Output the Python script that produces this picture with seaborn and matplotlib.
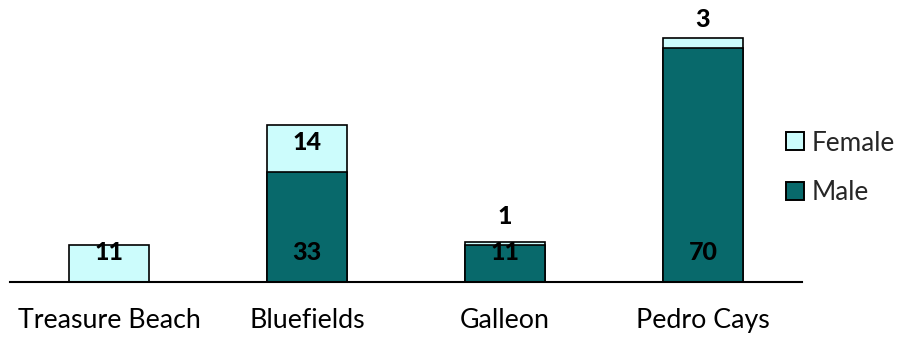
import matplotlib
matplotlib.use("Agg")
import matplotlib.pyplot as plt
from matplotlib.patches import Patch
import seaborn as sns
import pandas as pd

# Catch by site and sex
sites = ["Treasure Beach", "Bluefields", "Galleon", "Pedro Cays"]
male = [0, 33, 11, 70]
female = [11, 14, 1, 3]

MALE_COLOR = "#08696B"
FEMALE_COLOR = "#CCFCFC"

sns.set_theme(style="white")
plt.rcParams["font.family"] = ["Lato", "DejaVu Sans"]

df = pd.DataFrame({"site": sites, "male": male, "female": female})
df["total"] = df["male"] + df["female"]

fig = plt.figure(figsize=(8.99, 3.37), dpi=100)
ax = fig.add_axes([10 / 899, 55 / 337, 792 / 899, 267 / 337])

# Stacked bars: full height in the female colour, male portion on top of it
sns.barplot(data=df, x="site", y="total", color=FEMALE_COLOR, saturation=1,
            width=0.4, edgecolor="black", linewidth=1.2, ax=ax)
sns.barplot(data=df, x="site", y="male", color=MALE_COLOR, saturation=1,
            width=0.4, edgecolor="black", linewidth=1.2, ax=ax)

ax.set_xlim(-0.5, 3.5)
ax.set_ylim(0, 80)
ax.set_xlabel("")
ax.set_ylabel("")
ax.set_yticks([])
for side in ["top", "left", "right"]:
    ax.spines[side].set_visible(False)
ax.spines["bottom"].set_color("black")
ax.spines["bottom"].set_linewidth(1.5)
ax.tick_params(axis="x", length=0, pad=19, labelsize=19.3, colors="black")

# Value labels sit just above the base of each segment
for i, (m, f) in enumerate(zip(male, female)):
    if m > 0:
        ax.annotate(str(m), (i, 0), xytext=(0, 29), textcoords="offset pixels",
                    ha="center", va="center", fontsize=18, fontweight="black",
                    color="black")
    if f > 0:
        ax.annotate(str(f), (i, m), xytext=(0, 29), textcoords="offset pixels",
                    ha="center", va="center", fontsize=18, fontweight="black",
                    color="black")

handles = [Patch(facecolor=FEMALE_COLOR, edgecolor="black", linewidth=1.4, label="Female"),
           Patch(facecolor=MALE_COLOR, edgecolor="black", linewidth=1.4, label="Male")]
fig.legend(handles=handles, loc="center left", bbox_to_anchor=(786 / 899, 1 - 168 / 337),
           frameon=False, fontsize=18.8, handlelength=0.68, handleheight=0.68,
           handletextpad=0.3, labelspacing=0.95, borderaxespad=0, borderpad=0)

fig.savefig("out.png", dpi=100)
